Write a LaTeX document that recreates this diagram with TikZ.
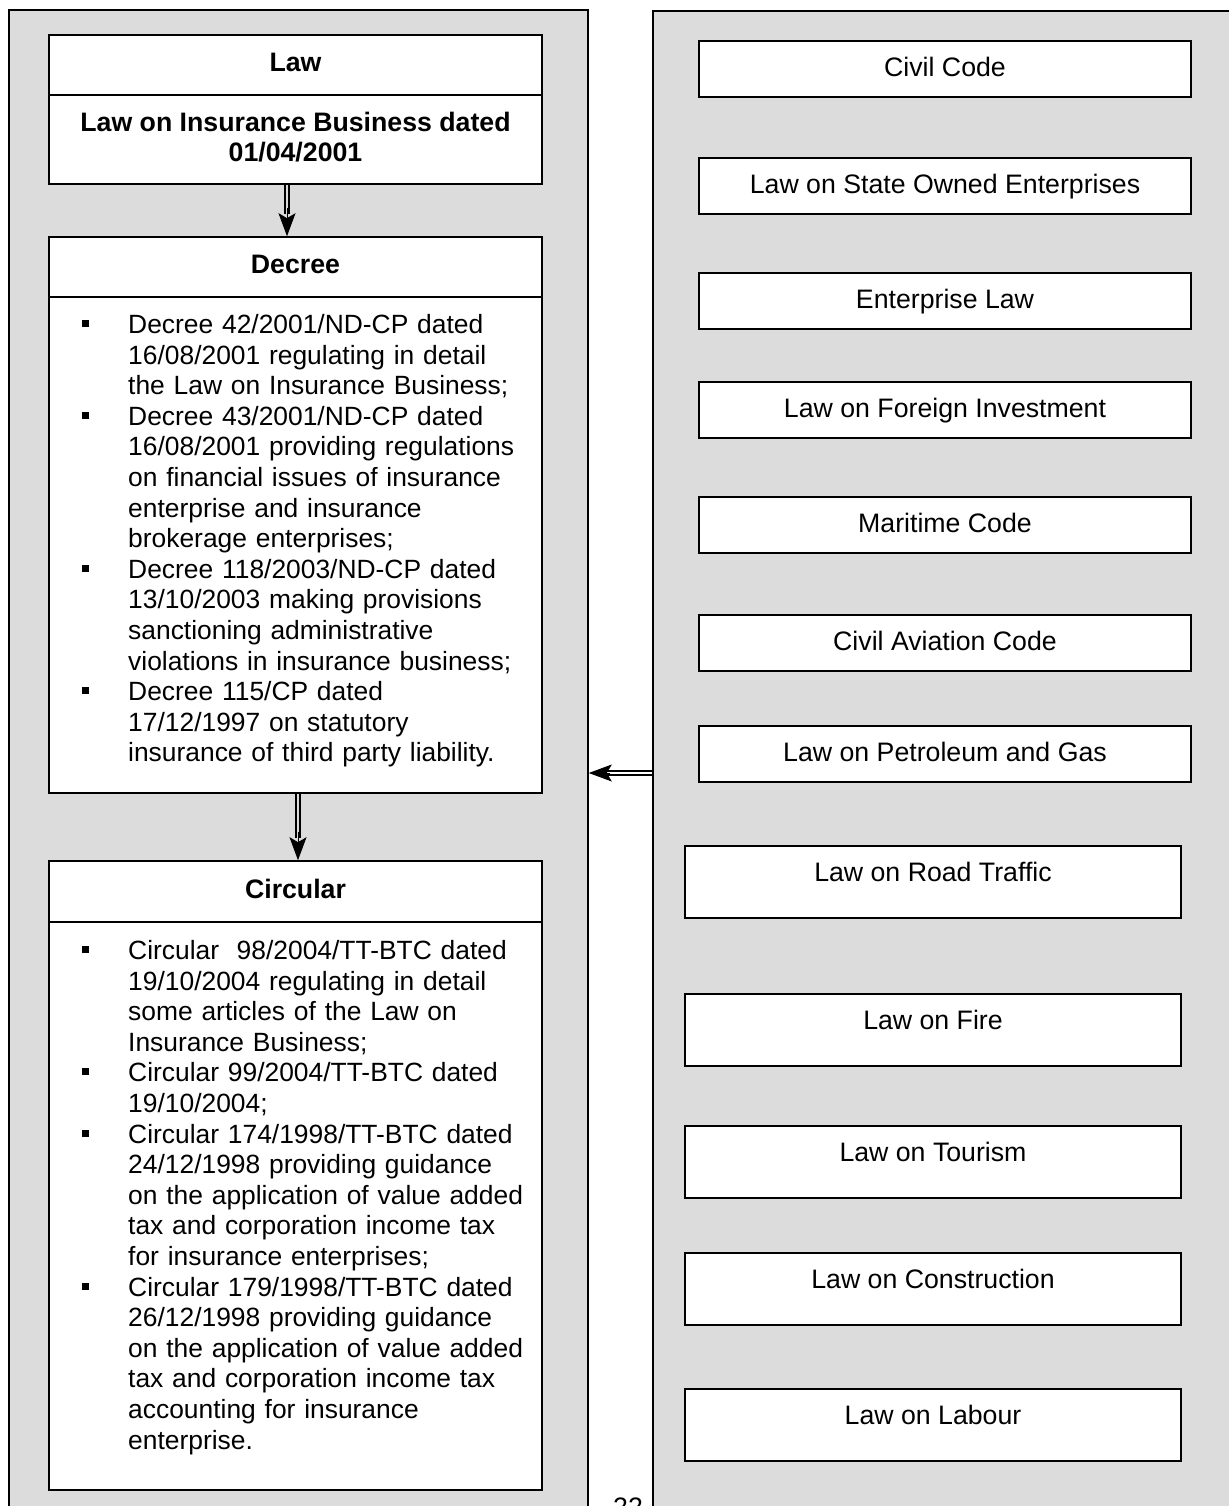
\documentclass[tikz,border=0pt]{standalone}
\usepackage{fontspec}
\setmainfont{Liberation Sans}
\usetikzlibrary{arrows.meta}
\definecolor{panelgray}{RGB}{220,220,220}
\newcommand\txtsz{\fontsize{26.7pt}{30.6pt}\selectfont}
\newcommand\bodysz{\fontsize{26.4pt}{30.6pt}\selectfont}
\newcommand\bl{\leavevmode\llap{\raisebox{6.5pt}{\rule{7pt}{7pt}}\hspace{39pt}}}
\begin{document}
\begin{tikzpicture}[x=1pt,y=-1pt,
  panel/.style={draw=black, line width=1.6pt, fill=panelgray, inner sep=0pt},
  wbox/.style={draw=black, line width=1.6pt, fill=white, inner sep=0pt, font=\txtsz, align=center},
  hdr/.style={wbox, minimum width=493pt, text height=19.2pt, text depth=6pt, font=\txtsz\bfseries},
  rbox/.style={wbox, text height=35.5pt, text depth=20.5pt, minimum width=492pt, anchor=north},
  rboxb/.style={wbox, text height=35.5pt, text depth=36.5pt, minimum width=496pt, anchor=north},
  bodytext/.style={inner sep=0pt, font=\bodysz, text width=440pt, align=left, anchor=base west},
  shaft/.style={double=#1, double distance=2.6pt, line width=1.8pt},
  headtip/.style={line width=0.8pt, -{Stealth[length=23pt, width=17pt, inset=5pt]}}
]
\useasboundingbox (0,0) rectangle (1228,1506);
% panels
\node[panel, minimum width=579pt, minimum height=1520pt] (lpanel) at (298.5,770) {};
\node[panel, minimum width=597pt, minimum height=1520pt] (rpanel) at (951.5,771) {};
% left column
\node[hdr, minimum height=60pt] (lawh) at (295.5,65) {Law};
\node[wbox, minimum width=493pt, minimum height=89pt] (lawb) at (295.5,139.5) {};
\node[inner sep=0pt, font=\txtsz\bfseries, align=center] (lawt) at (295.5,137) {Law on Insurance Business dated\\01/04/2001};
\node[hdr, minimum height=60pt] (dech) at (295.5,267) {Decree};
\node[wbox, minimum width=493pt, minimum height=496pt] (decb) at (295.5,545) {};
\node[hdr, minimum height=61pt] (cirh) at (295.5,891.5) {Circular};
\node[wbox, minimum width=493pt, minimum height=568pt] (cirb) at (295.5,1206) {};
\node[bodytext] (dect) at (128,333.5) {%
\bl Decree 42/2001/ND-CP dated\\
16/08/2001 regulating in detail\\
the Law on Insurance Business;\\
\bl Decree 43/2001/ND-CP dated\\
16/08/2001 providing regulations\\
on financial issues of insurance\\
enterprise and insurance\\
brokerage enterprises;\\
\bl Decree 118/2003/ND-CP dated\\
13/10/2003 making provisions\\
sanctioning administrative\\
violations in insurance business;\\
\bl Decree 115/CP dated\\
17/12/1997 on statutory\\
insurance of third party liability.};
\node[bodytext] (cirt) at (128,959.5) {%
\bl Circular~ 98/2004/TT-BTC dated\\
19/10/2004 regulating in detail\\
some articles of the Law on\\
Insurance Business;\\
\bl Circular 99/2004/TT-BTC dated\\
19/10/2004;\\
\bl Circular 174/1998/TT-BTC dated\\
24/12/1998 providing guidance\\
on the application of value added\\
tax and corporation income tax\\
for insurance enterprises;\\
\bl Circular 179/1998/TT-BTC dated\\
26/12/1998 providing guidance\\
on the application of value added\\
tax and corporation income tax\\
accounting for insurance\\
enterprise.};
% right column
\node[rbox] (r1) at (945,40) {Civil Code};
\node[rbox] (r2) at (945,157) {Law on State Owned Enterprises};
\node[rbox] (r3) at (945,272) {Enterprise Law};
\node[rbox] (r4) at (945,381) {Law on Foreign Investment};
\node[rbox] (r5) at (945,496) {Maritime Code};
\node[rbox] (r6) at (945,614) {Civil Aviation Code};
\node[rbox] (r7) at (945,725) {Law on Petroleum and Gas};
\node[rboxb] (r8) at (933,845) {Law on Road Traffic};
\node[rboxb] (r9) at (933,993) {Law on Fire};
\node[rboxb] (r10) at (933,1125) {Law on Tourism};
\node[rboxb] (r11) at (933,1252) {Law on Construction};
\node[rboxb] (r12) at (933,1388) {Law on Labour};
% page number
\node[inner sep=0pt, font=\txtsz, anchor=base] (pg) at (628,1516) {22};
% arrows
\coordinate (a1x) at (287,0);
\coordinate (a1h) at (287,208);
\coordinate (a2x) at (298,0);
\coordinate (a2h) at (298,832);
\coordinate (a3y) at (0,773);
\coordinate (a3h) at (610,773);
\draw[shaft=panelgray] (lawb.south -| a1x) -- (287,214);
\draw[headtip] (a1h) -- (dech.north -| a1x);
\draw[shaft=panelgray] (decb.south -| a2x) -- (298,838);
\draw[headtip] (a2h) -- (cirh.north -| a2x);
\draw[shaft=white] (rpanel.west |- a3y) -- (606,773);
\draw[headtip] (a3h) -- (lpanel.east |- a3y);
\end{tikzpicture}
\end{document}
